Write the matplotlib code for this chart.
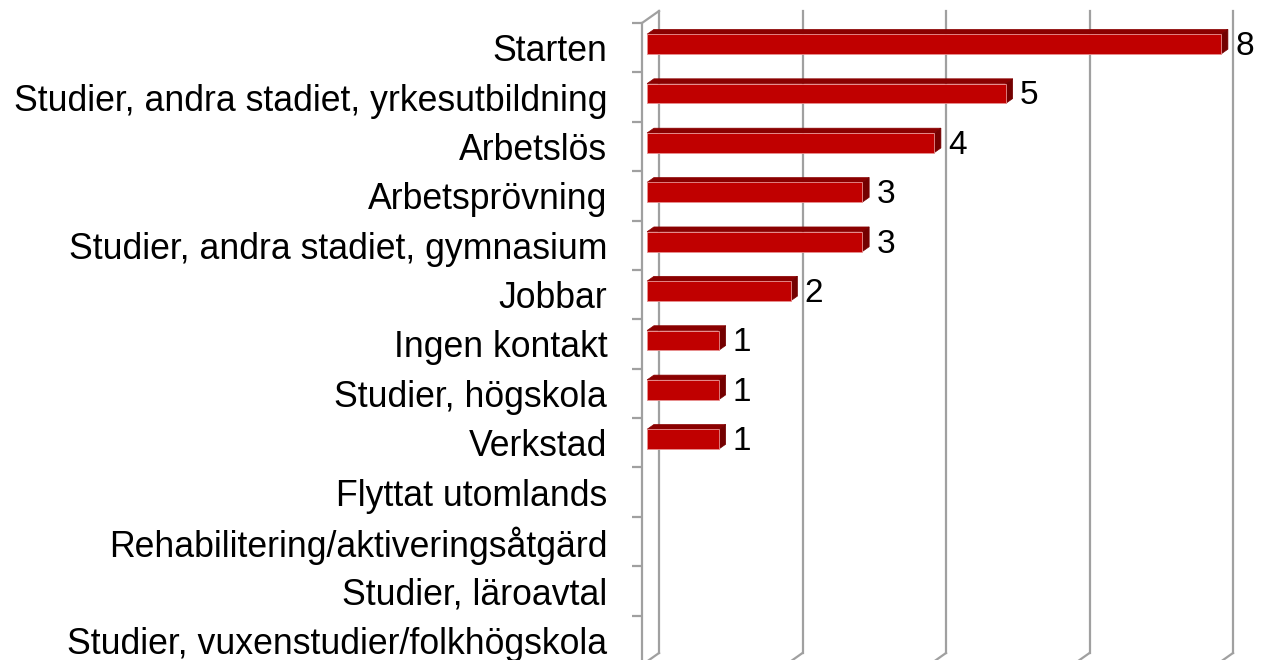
import matplotlib
matplotlib.use("Agg")
import matplotlib.pyplot as plt
from matplotlib.patches import Polygon

plt.rcParams["font.family"] = ["Liberation Sans", "DejaVu Sans"]

CATEGORIES = [
    "Starten",
    "Studier, andra stadiet, yrkesutbildning",
    "Arbetslös",
    "Arbetsprövning",
    "Studier, andra stadiet, gymnasium",
    "Jobbar",
    "Ingen kontakt",
    "Studier, högskola",
    "Verkstad",
    "Flyttat utomlands",
    "Rehabilitering/aktiveringsåtgärd",
    "Studier, läroavtal",
    "Studier, vuxenstudier/folkhögskola",
]
VALUES = [8, 5, 4, 3, 3, 2, 1, 1, 1, 0, 0, 0, 0]
X_TICKS = [0, 2, 4, 6, 8]

# 3D look: depth offset of the back wall in data units
DX = 0.237
DY = -0.243
Z0, DZ = 0.3, 0.4       # bar starts at 30% of depth, 40% deep
HALF_H = 0.2

GRID_COLOR = "#a0a0a0"
FRONT = "#c00000"
TOP = "#8a0000"
SIDE = "#740000"


def main():
    fig = plt.figure(figsize=(12.65, 6.6), dpi=100)
    ax = fig.add_axes([642 / 1265, -5 / 660, 574 / 1265, 642 / 660])
    n = len(CATEGORIES)
    ax.set_xlim(0, 8)
    ax.set_ylim(n - 0.5, -0.5)

    for s in ax.spines.values():
        s.set_visible(False)

    # back wall gridlines + floor diagonals
    for v in X_TICKS:
        ax.plot([v + DX, v + DX], [-0.5 + DY, n - 0.5 + DY], color=GRID_COLOR,
                lw=1.6, clip_on=False, zorder=1)
        ax.plot([v + DX, v], [n - 0.5 + DY, n - 0.5], color=GRID_COLOR,
                lw=1.6, clip_on=False, zorder=1)

    # left wall front edge and top diagonal
    ax.plot([0, 0], [-0.5, n - 0.5], color=GRID_COLOR, lw=1.6, clip_on=False, zorder=1)
    ax.plot([0, DX], [-0.5, -0.5 + DY], color=GRID_COLOR, lw=1.6, clip_on=False, zorder=1)

    # ticks at category boundaries, labels at centers
    ax.set_xticks([])
    ax.set_yticks([k - 0.5 for k in range(n + 1)])
    ax.set_yticklabels([])
    ax.tick_params(axis="y", which="major", direction="out", length=7,
                   width=1.6, color=GRID_COLOR)
    ax.set_yticks(range(n), minor=True)
    ax.set_yticklabels(CATEGORIES, minor=True, fontsize=25.7)
    ax.tick_params(axis="y", which="minor", length=0, pad=25)

    for i, v in enumerate(VALUES):
        if v <= 0:
            continue
        x0 = Z0 * DX
        x1 = v + Z0 * DX
        yc = i + Z0 * DY
        yt, yb = yc - HALF_H, yc + HALF_H
        ddx, ddy = DZ * DX, DZ * DY
        top = Polygon([(x0, yt), (x1, yt), (x1 + ddx, yt + ddy), (x0 + ddx, yt + ddy)],
                      closed=True, facecolor=TOP, edgecolor=TOP, lw=0.5,
                      clip_on=False, zorder=3)
        side = Polygon([(x1, yt), (x1 + ddx, yt + ddy), (x1 + ddx, yb + ddy), (x1, yb)],
                       closed=True, facecolor=SIDE, edgecolor=SIDE, lw=0.5,
                       clip_on=False, zorder=3)
        front = Polygon([(x0, yt), (x1, yt), (x1, yb), (x0, yb)],
                        closed=True, facecolor=FRONT, edgecolor="#e89090", lw=0.6,
                        clip_on=False, zorder=4)
        ax.add_patch(top)
        ax.add_patch(side)
        ax.add_patch(front)
        ax.text(x1 + ddx + 0.1, yc - 0.02, str(v), fontsize=24,
                ha="left", va="center_baseline", clip_on=False, zorder=5)

    fig.savefig("out.png", dpi=100)
    plt.close(fig)


if __name__ == "__main__":
    main()
